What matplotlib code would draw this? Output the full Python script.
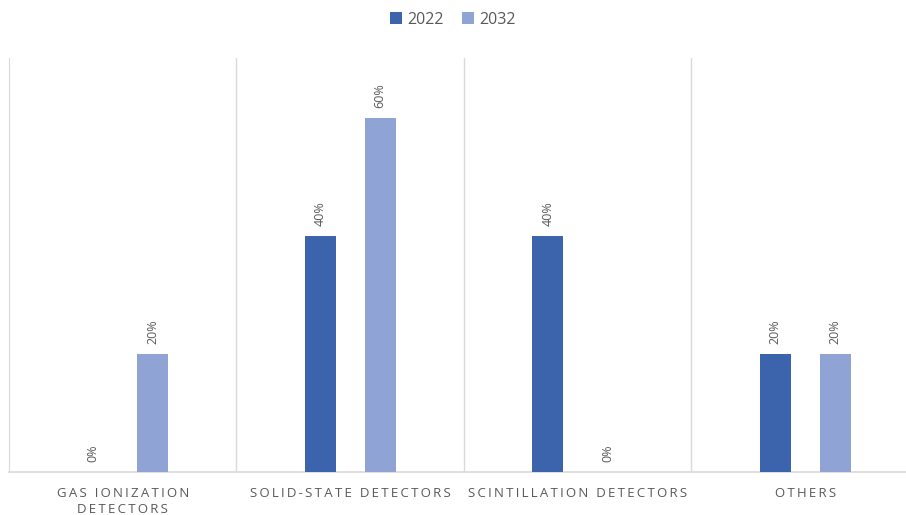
import matplotlib
matplotlib.use("Agg")
import matplotlib.pyplot as plt
import numpy as np

categories = ["GAS IONIZATION\nDETECTORS", "SOLID-STATE DETECTORS",
              "SCINTILLATION DETECTORS", "OTHERS"]
series_names = ["2022", "2032"]
values_2022 = [0, 40, 40, 20]
values_2032 = [20, 60, 0, 20]
colors = ["#3b64ad", "#8fa4d5"]
text_color = "#595959"

plt.rcParams["font.family"] = ["Open Sans", "DejaVu Sans"]


def spaced(s):
    # widen the letter spacing of category labels
    return "\n".join("\u2009".join(line) for line in s.split("\n"))


fig = plt.figure(figsize=(9.06, 5.15), dpi=100)
W, H = 906, 515
left, right, top, bottom = 9, 906, 58, 472
ax = fig.add_axes([left / W, 1 - bottom / H, (right - left) / W, (bottom - top) / H])

cat_px = 227.5
x = np.arange(len(categories))
bw = 31 / cat_px
off = 30 / cat_px

for vals, name, col, d in [(values_2022, series_names[0], colors[0], -off),
                           (values_2032, series_names[1], colors[1], off)]:
    ax.bar(x + d, vals, width=bw, color=col, label=name, zorder=3)
    for xi, v in zip(x + d, vals):
        ax.text(xi, v + 1.7, f"{v}%", rotation=90, ha="center", va="bottom",
                fontsize=9, color=text_color)

ax.set_xlim(-0.5, -0.5 + (right - left) / cat_px)
ax.set_ylim(0, 70.2)

for b in [0.5, 1.5, 2.5]:
    ax.axvline(b, color="#d9d9d9", lw=1, zorder=1)

for s in ["top", "right"]:
    ax.spines[s].set_visible(False)
ax.spines["left"].set_color("#d9d9d9")
ax.spines["bottom"].set_color("#d9d9d9")
ax.spines["bottom"].set_linewidth(1.2)
ax.set_yticks([])
ax.set_xticks(x)
ax.set_xticklabels([spaced(c) for c in categories], fontsize=9.5,
                   color=text_color, linespacing=1.3)
ax.tick_params(axis="x", length=0, pad=11)

fig.legend(loc="upper center", bbox_to_anchor=(0.5, 1.005), ncol=2, frameon=False,
           fontsize=11.5, handlelength=0.75, handleheight=0.75, handletextpad=0.35,
           columnspacing=1.1, labelcolor=text_color)

fig.savefig("out.png", dpi=100)
